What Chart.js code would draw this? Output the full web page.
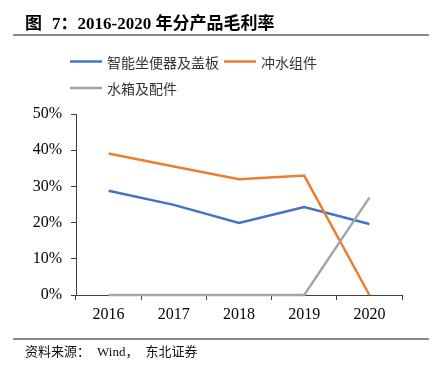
<!DOCTYPE html>
<html>
<head>
<meta charset="utf-8">
<script src="https://cdn.jsdelivr.net/npm/chart.js@4.4.1/dist/chart.umd.min.js"></script>
<style>
	html, body { margin: 0; padding: 0; background: #fff; }
	#wrap { position: relative; width: 432px; height: 372px; overflow: hidden; }
	#chart { position: absolute; left: 0; top: 0; }
	.title { position: absolute; left: 25px; top: 14px; line-height: 20px; font-weight: bold; font-size: 17px; font-family: 'Liberation Serif', 'Noto Sans CJK SC', serif; color: #000; white-space: nowrap; }
	.rule { position: absolute; left: 13px; width: 416px; height: 2px; background: #8a8a8a; }
	.source { position: absolute; left: 25px; top: 344px; line-height: 16px; font-size: 13px; font-family: 'Liberation Serif', 'Noto Sans CJK SC', serif; color: #111; white-space: nowrap; }
</style>
</head>
<body>
<div id="wrap">
	<canvas id="chart" width="432" height="372"></canvas>
	<div class="title">图<span style="margin-left:10px">7：</span>2016-2020 年分产品毛利率</div>
	<div class="rule" style="top:34px"></div>
	<div class="rule" style="top:338px"></div>
	<div class="source">资料来源：<span style="margin-left:7px">Wind，</span><span style="margin-left:7px">东北证券</span></div>
</div>
<script>
	'use strict';

	// data (gross margin, %)
	var years = ['2016', '2017', '2018', '2019', '2020'];
	var seriesNames = ['智能坐便器及盖板', '冲水组件', '水箱及配件'];
	var toiletMargin = [28.8, 24.9, 19.9, 24.3, 19.6];
	var flushMargin = [39.1, 35.5, 32.0, 33.0, 0];
	var tankMargin = [0, 0, 0, 0, 26.9];
	var seriesColors = ['#4472C4', '#ED7D31', '#A5A5A5'];
	var yMax = 50;
	var yStep = 10;

	var axisColor = '#404040';
	var serif = "'Liberation Serif', 'Times New Roman', serif";

	/**
	 * Legend drawn as short lines followed by the series name
	 */
	var lineLegend = {
		id: 'lineLegend',
		afterDraw: function (chart, args, opts) {
			var ctx = chart.ctx;
			var x = opts.left;
			var y = opts.top;
			ctx.save();
			ctx.font = opts.font;
			ctx.textBaseline = 'middle';
			ctx.textAlign = 'left';
			chart.data.datasets.forEach(function (ds) {
				var w = opts.lineLength + opts.gap + ctx.measureText(ds.label).width;
				if (x + w > opts.right) {
					x = opts.left;
					y += opts.rowHeight;
				}
				ctx.strokeStyle = ds.borderColor;
				ctx.lineWidth = 2.5;
				ctx.beginPath();
				ctx.moveTo(x, y);
				ctx.lineTo(x + opts.lineLength, y);
				ctx.stroke();
				ctx.fillStyle = opts.color;
				ctx.fillText(ds.label, x + opts.lineLength + opts.gap, y + 1);
				x += w + opts.itemGap;
			});
			ctx.restore();
		}
	};

	var seriesData = [toiletMargin, flushMargin, tankMargin];

	new Chart(document.getElementById('chart'), {
		type: 'line',
		data: {
			labels: years,
			datasets: seriesNames.map(function (name, i) {
				return {
					label: name,
					data: seriesData[i],
					borderColor: seriesColors[i],
					backgroundColor: seriesColors[i],
					borderWidth: 2.5,
					pointRadius: 0,
					tension: 0,
					clip: false,
					order: 3 - i
				};
			})
		},
		options: {
			responsive: false,
			animation: false,
			layout: {
				padding: { left: 16, right: 30, top: 114, bottom: 47 }
			},
			plugins: {
				legend: { display: false },
				tooltip: { enabled: false },
				lineLegend: {
					left: 70,
					top: 61.5,
					right: 340,
					lineLength: 32,
					gap: 5,
					itemGap: 5,
					rowHeight: 26.5,
					font: "14px 'Noto Sans CJK SC', sans-serif",
					color: '#333'
				}
			},
			scales: {
				x: {
					offset: true,
					grid: {
						offset: true,
						drawOnChartArea: false,
						drawTicks: true,
						tickLength: 5,
						color: axisColor
					},
					border: { color: axisColor, width: 1 },
					ticks: {
						padding: 5,
						color: '#000',
						font: { family: serif, size: 16 }
					},
					afterFit: function (scale) {
						scale.height = 30;
					}
				},
				y: {
					min: 0,
					max: yMax,
					grid: {
						drawOnChartArea: false,
						drawTicks: true,
						tickLength: 5,
						color: axisColor
					},
					border: { color: axisColor, width: 1 },
					ticks: {
						stepSize: yStep,
						padding: 9,
						color: '#000',
						font: { family: serif, size: 16 },
						callback: function (value) {
							return value + '%';
						}
					},
					afterFit: function (scale) {
						scale.width = 60;
					}
				}
			}
		},
		plugins: [lineLegend]
	});
</script>
</body>
</html>
